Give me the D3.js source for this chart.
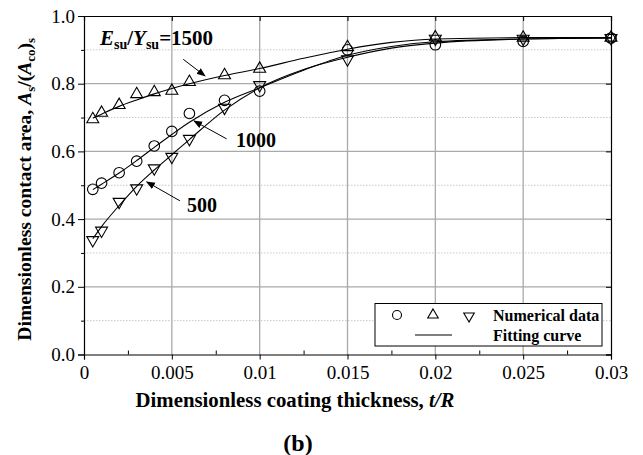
<!DOCTYPE html>
<html>
<head>
<meta charset="utf-8">
<script src="https://cdn.jsdelivr.net/npm/d3@7"></script>
<style>
  html, body { margin: 0; padding: 0; background: #fff; }
  svg { display: block; }
  text { font-family: "Liberation Serif", "Times New Roman", Times, serif; fill: #000; }
</style>
</head>
<body>
<svg id="chart" width="643" height="455" font-family="Liberation Serif, Times New Roman, serif"></svg>
<script>
// Dimensionless coating thickness t/R at which the numerical data were sampled
const thickness = [0.0005, 0.001, 0.002, 0.003, 0.004, 0.005, 0.006, 0.008, 0.01, 0.015, 0.02, 0.025, 0.03];

// Numerical data, A_s/(A_co)_s, one array per modulus-to-yield ratio
const ratio1500 = [0.695, 0.714, 0.737, 0.769, 0.775, 0.779, 0.805, 0.825, 0.844, 0.908, 0.937, 0.936, 0.936];
const ratio1000 = [0.488, 0.506, 0.537, 0.571, 0.616, 0.659, 0.712, 0.751, 0.778, 0.900, 0.915, 0.925, 0.935];
const ratio500  = [0.338, 0.366, 0.451, 0.491, 0.550, 0.584, 0.637, 0.729, 0.796, 0.872, 0.933, 0.933, 0.935];

// Fitting curves, sampled along t/R
const fitThickness = [0.0005, 0.001, 0.002, 0.003, 0.004, 0.005, 0.006, 0.008, 0.01, 0.0125, 0.015, 0.0175, 0.02, 0.025, 0.03];
const fit1500 = [0.698, 0.710, 0.733, 0.752, 0.770, 0.786, 0.800, 0.824, 0.845, 0.875, 0.902, 0.922, 0.932, 0.936, 0.936];
const fit1000 = [0.487, 0.503, 0.536, 0.573, 0.612, 0.650, 0.686, 0.745, 0.788, 0.840, 0.884, 0.910, 0.924, 0.932, 0.935];
const fit500  = [0.342, 0.378, 0.440, 0.497, 0.545, 0.590, 0.635, 0.722, 0.788, 0.842, 0.878, 0.905, 0.920, 0.932, 0.935];

// Axis ticks
const xTicks = [0, 0.005, 0.01, 0.015, 0.02, 0.025, 0.03];
const xTickLabels = ["0", "0.005", "0.01", "0.015", "0.02", "0.025", "0.03"];
const xMinorTicks = [0.0025, 0.0075, 0.0125, 0.0175, 0.0225, 0.0275];
const yTicks = [0, 0.2, 0.4, 0.6, 0.8, 1.0];
const yTickLabels = ["0.0", "0.2", "0.4", "0.6", "0.8", "1.0"];
const yMinorTicks = [0.1, 0.3, 0.5, 0.7, 0.9];

const FONT = "'Liberation Serif', 'Times New Roman', serif";
const svg = d3.select("#chart");
const W = 643, H = 455;
const margin = { left: 84, top: 16, right: 32, bottom: 100.5 };
const x = d3.scaleLinear().domain([0, 0.03]).range([margin.left, W - margin.right]);
const y = d3.scaleLinear().domain([0, 1]).range([H - margin.bottom, margin.top]);
const x0 = x.range()[0], x1 = x.range()[1], y0 = y.range()[0], y1 = y.range()[1];

// Grid
const grid = svg.append("g");
grid.selectAll("line.hminor").data(yMinorTicks).join("line")
  .attr("x1", x0).attr("x2", x1).attr("y1", d => y(d)).attr("y2", d => y(d))
  .attr("stroke", "#c8c8c8").attr("stroke-width", 1).attr("stroke-dasharray", "1.5,1.5");
grid.selectAll("line.hmajor").data(yTicks.slice(1, -1)).join("line")
  .attr("x1", x0).attr("x2", x1).attr("y1", d => y(d)).attr("y2", d => y(d))
  .attr("stroke", "#aaaaaa").attr("stroke-width", 1.3);
grid.selectAll("line.vmajor").data(xTicks.slice(1, -1)).join("line")
  .attr("y1", y0).attr("y2", y1).attr("x1", d => x(d)).attr("x2", d => x(d))
  .attr("stroke", "#aaaaaa").attr("stroke-width", 1.3);

// Axes
const fmtX = d => xTickLabels[xTicks.indexOf(d)];
const fmtY = d => yTickLabels[yTicks.findIndex(v => Math.abs(v - d) < 1e-9)];

svg.append("g").attr("transform", `translate(0,${y0})`)
  .call(d3.axisBottom(x).tickValues(xTicks).tickFormat(fmtX).tickSizeOuter(0).tickSize(5).tickPadding(6));
const xMinor = svg.append("g").attr("transform", `translate(0,${y0})`)
  .call(d3.axisTop(x).tickValues(xMinorTicks).tickFormat("").tickSizeOuter(0).tickSize(4));
xMinor.select(".domain").remove();

svg.append("g").attr("transform", `translate(${x0},0)`)
  .call(d3.axisLeft(y).tickValues(yTicks).tickFormat(fmtY).tickSizeOuter(0).tickSize(6).tickPadding(3));
const yMinor = svg.append("g").attr("transform", `translate(${x0},0)`)
  .call(d3.axisLeft(y).tickValues(yMinorTicks).tickFormat("").tickSizeOuter(0).tickSize(3));
yMinor.select(".domain").remove();

svg.append("g").attr("transform", `translate(0,${y1})`)
  .call(d3.axisTop(x).tickValues(xTicks).tickFormat("").tickSizeOuter(0).tickSize(-5));
svg.append("g").attr("transform", `translate(${x1},0)`)
  .call(d3.axisRight(y).tickValues(yTicks).tickFormat("").tickSizeOuter(0).tickSize(-5));

svg.selectAll("g").attr("font-family", null);
svg.selectAll(".domain").attr("stroke", "#000").attr("stroke-width", 1.2);
svg.selectAll(".tick line").attr("stroke", "#000").attr("stroke-width", 1);
svg.selectAll(".tick text").style("font-family", FONT)
  .style("font-size", "19px").attr("fill", "#000");

// Fitting curves
const line = d3.line().x(d => x(d[0])).y(d => y(d[1])).curve(d3.curveMonotoneX);
[fit1500, fit1000, fit500].forEach(vals => {
  svg.append("path").datum(fitThickness.map((t, i) => [t, vals[i]]))
    .attr("d", line).attr("fill", "none").attr("stroke", "#000").attr("stroke-width", 1.1);
});

// Markers
const triUp = d3.symbol().type(d3.symbolTriangle).size(62);
function drawSeries(vals, kind) {
  const g = svg.append("g");
  const pts = thickness.map((t, i) => [t, vals[i]]);
  if (kind === "circle") {
    g.selectAll("circle").data(pts).join("circle")
      .attr("cx", d => x(d[0])).attr("cy", d => y(d[1])).attr("r", 5.3)
      .attr("fill", "none").attr("stroke", "#000").attr("stroke-width", 1.1);
  } else {
    const rot = kind === "down" ? 180 : 0;
    g.selectAll("path").data(pts).join("path")
      .attr("d", triUp)
      .attr("transform", d => `translate(${x(d[0])},${y(d[1])}) rotate(${rot})`)
      .attr("fill", "none").attr("stroke", "#000").attr("stroke-width", 1.1);
  }
}
drawSeries(ratio1500, "up");
drawSeries(ratio1000, "circle");
drawSeries(ratio500, "down");

// Annotations with arrows
const defs = svg.append("defs");
defs.append("marker").attr("id", "arrow").attr("viewBox", "0 0 10 10")
  .attr("refX", 9).attr("refY", 5).attr("markerWidth", 9).attr("markerHeight", 9)
  .attr("markerUnits", "userSpaceOnUse").attr("orient", "auto")
  .append("path").attr("d", "M0,1 L10,5 L0,9 Z").attr("fill", "#000");

const arrows = [
  [[0.00565, 0.872], [0.00689, 0.823]],
  [[0.00812, 0.637], [0.00626, 0.690]],
  [[0.00546, 0.454], [0.00357, 0.510]]
];
arrows.forEach(([a, b]) => {
  svg.append("line").attr("x1", x(a[0])).attr("y1", y(a[1])).attr("x2", x(b[0])).attr("y2", y(b[1]))
    .attr("stroke", "#000").attr("stroke-width", 1).attr("marker-end", "url(#arrow)");
});

function txt(sel) { return sel.style("font-family", FONT).attr("font-weight", "bold"); }

const lab1500 = txt(svg.append("text")).attr("x", x(0.00091)).attr("y", y(0.914)).attr("font-size", 21);
lab1500.append("tspan").attr("font-style", "italic").text("E");
lab1500.append("tspan").attr("font-size", 14).attr("dy", 4).text("su");
lab1500.append("tspan").attr("dy", -4).text("/");
lab1500.append("tspan").attr("font-style", "italic").text("Y");
lab1500.append("tspan").attr("font-size", 14).attr("dy", 4).text("su");
lab1500.append("tspan").attr("dy", -4).text("=1500");

txt(svg.append("text")).attr("x", x(0.00865)).attr("y", y(0.613)).attr("font-size", 20).text("1000");
txt(svg.append("text")).attr("x", x(0.00586)).attr("y", y(0.421)).attr("font-size", 20).text("500");

// Axis titles
txt(svg.append("text")).attr("x", 295).attr("y", 407).attr("text-anchor", "middle").attr("font-size", 20.8)
  .call(t => {
    t.append("tspan").text("Dimensionless coating thickness, ");
    t.append("tspan").attr("font-style", "italic").text("t/R");
  });

txt(svg.append("text")).attr("x", 298).attr("y", 451).attr("text-anchor", "middle")
  .attr("font-size", 24).text("(b)");

const yt = txt(svg.append("text")).attr("transform", `translate(31,${(y0 + y1) / 2 + 4}) rotate(-90)`)
  .attr("text-anchor", "middle").attr("font-size", 19.6);
yt.append("tspan").text("Dimensionless contact area, ");
yt.append("tspan").attr("font-style", "italic").text("A");
yt.append("tspan").attr("font-size", 13).attr("dy", 4).text("s");
yt.append("tspan").attr("dy", -4).text("/(");
yt.append("tspan").attr("font-style", "italic").text("A");
yt.append("tspan").attr("font-size", 13).attr("dy", 4).text("co");
yt.append("tspan").attr("dy", -4).text(")");
yt.append("tspan").attr("font-size", 13).attr("dy", 4).text("s");

// Legend
const lg = svg.append("g");
lg.append("rect").attr("x", 375).attr("y", 303.5).attr("width", 227).attr("height", 42.5)
  .attr("fill", "#fff").attr("stroke", "#000").attr("stroke-width", 1);
lg.append("circle").attr("cx", 397).attr("cy", 315).attr("r", 4.5)
  .attr("fill", "none").attr("stroke", "#000").attr("stroke-width", 1.1);
const triLg = d3.symbol().type(d3.symbolTriangle).size(48);
lg.append("path").attr("d", triLg).attr("transform", "translate(433,315)")
  .attr("fill", "none").attr("stroke", "#000").attr("stroke-width", 1.1);
lg.append("path").attr("d", triLg).attr("transform", "translate(469,316) rotate(180)")
  .attr("fill", "none").attr("stroke", "#000").attr("stroke-width", 1.1);
lg.append("line").attr("x1", 415).attr("x2", 452).attr("y1", 335).attr("y2", 335)
  .attr("stroke", "#000").attr("stroke-width", 1.1);
txt(lg.append("text")).attr("x", 493).attr("y", 321).attr("font-size", 16).text("Numerical data");
txt(lg.append("text")).attr("x", 493).attr("y", 341).attr("font-size", 16).text("Fitting curve");
</script>
</body>
</html>
